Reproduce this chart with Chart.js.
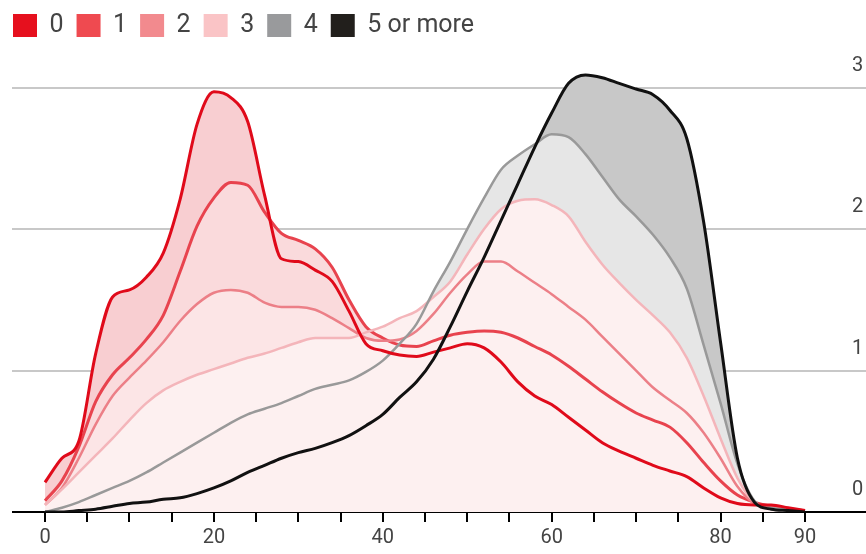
<!DOCTYPE html>
<html>
<head>
<meta charset="utf-8">
<script src="https://cdn.jsdelivr.net/npm/chart.js@4/dist/chart.umd.min.js"></script>
<style>
  html, body { margin: 0; padding: 0; background: #fff; }
</style>
</head>
<body>
<canvas id="myChart" width="866" height="554"></canvas>
<script>
// ages (x) shared by every series
const ages = [0, 2, 4, 6, 8, 10, 12, 14, 16, 18, 20, 22, 24, 26, 28, 30, 32, 34, 36, 38, 40, 42, 44,
  46, 48, 50, 52, 54, 56, 58, 60, 62, 64, 66, 68, 70, 72, 74, 76, 78, 80, 82, 84, 86, 88, 90];

const seriesNames = ["0", "1", "2", "3", "4", "5 or more"];

const s0 = [0.21, 0.38, 0.50, 1.12, 1.52, 1.57, 1.66, 1.83, 2.21, 2.74, 2.97, 2.93, 2.76, 2.24, 1.79, 1.77,
  1.71, 1.63, 1.42, 1.19, 1.14, 1.11, 1.10, 1.13, 1.16, 1.19, 1.16, 1.06, 0.92, 0.82, 0.76, 0.67, 0.58,
  0.49, 0.43, 0.38, 0.33, 0.29, 0.25, 0.17, 0.10, 0.06, 0.05, 0.05, 0.03, 0.01];
const s1 = [0.08, 0.22, 0.46, 0.78, 0.97, 1.09, 1.22, 1.39, 1.70, 2.02, 2.22, 2.33, 2.31, 2.12, 1.97, 1.92,
  1.86, 1.73, 1.50, 1.31, 1.23, 1.18, 1.17, 1.21, 1.25, 1.27, 1.28, 1.27, 1.23, 1.17, 1.11, 1.03, 0.94,
  0.85, 0.77, 0.70, 0.65, 0.60, 0.49, 0.35, 0.22, 0.12, 0.07, 0.04, 0.02, 0.01];
const s2 = [0.05, 0.17, 0.38, 0.62, 0.82, 0.95, 1.07, 1.20, 1.35, 1.47, 1.55, 1.57, 1.55, 1.48, 1.45, 1.45,
  1.43, 1.37, 1.30, 1.23, 1.21, 1.22, 1.28, 1.40, 1.55, 1.68, 1.77, 1.77, 1.70, 1.62, 1.54, 1.45, 1.36,
  1.24, 1.12, 1.00, 0.88, 0.79, 0.70, 0.56, 0.38, 0.18, 0.06, 0.03, 0.02, 0.01];
const s3 = [0.05, 0.16, 0.28, 0.40, 0.52, 0.65, 0.77, 0.86, 0.92, 0.97, 1.01, 1.05, 1.09, 1.12, 1.16, 1.20,
  1.23, 1.23, 1.23, 1.27, 1.31, 1.37, 1.42, 1.52, 1.63, 1.82, 2.00, 2.14, 2.20, 2.21, 2.17, 2.09, 1.91,
  1.75, 1.62, 1.50, 1.39, 1.27, 1.09, 0.82, 0.52, 0.24, 0.07, 0.03, 0.02, 0.01];
const s4 = [0.00, 0.03, 0.07, 0.12, 0.17, 0.22, 0.28, 0.35, 0.42, 0.49, 0.56, 0.63, 0.69, 0.73, 0.77, 0.82,
  0.87, 0.90, 0.93, 0.99, 1.07, 1.19, 1.33, 1.56, 1.77, 2.00, 2.22, 2.42, 2.52, 2.60, 2.67, 2.65, 2.53,
  2.37, 2.21, 2.09, 1.96, 1.80, 1.58, 1.18, 0.77, 0.34, 0.08, 0.03, 0.02, 0.01];
const s5 = [0.00, 0.00, 0.01, 0.02, 0.04, 0.06, 0.07, 0.09, 0.10, 0.13, 0.17, 0.22, 0.28, 0.33, 0.38, 0.42,
  0.45, 0.49, 0.54, 0.61, 0.69, 0.81, 0.92, 1.08, 1.31, 1.56, 1.80, 2.06, 2.32, 2.58, 2.82, 3.03, 3.09,
  3.07, 3.03, 2.99, 2.95, 2.84, 2.64, 2.05, 1.20, 0.38, 0.07, 0.02, 0.01, 0.00];

const xTickValues = [0, 5, 10, 15, 20, 25, 30, 35, 40, 45, 50, 55, 60, 65, 70, 75, 80, 85, 90];
const xLabelled = [0, 20, 40, 60, 80, 90];
const yTickValues = [0, 1, 2, 3];

const allSeries = [s0, s1, s2, s3, s4, s5];
const lineColors = ["#e00a1a", "#e8434e", "#ec7f87", "#f4b5ba", "#999999", "#111111"];
const legendColors = ["#e6101e", "#ef4a50", "#f28a8e", "#fac4c6", "#999a9c", "#221f1c"];
const lineWidths = [3, 3, 2.5, 2.5, 2.5, 3];
const none = "rgba(0,0,0,0)";
// colour of the band between a series and the next one, when it is above / below it
const bandAbove = ["#f8ced1", "#fadadc", "#fce5e6", none, none];
const bandBelow = [none, none, none, "#e6e6e6", "#c8c8c8"];
const baseFill = "#fdf0f0";
const lineOrder = [1, 5, 4, 3, 2, 0];

const toPoints = (arr) => arr.map((v, i) => ({ x: ages[i], y: v }));

const datasets = allSeries.map((arr, i) => ({
  label: seriesNames[i],
  data: toPoints(arr),
  yAxisID: "y",
  borderColor: lineColors[i],
  backgroundColor: legendColors[i],
  borderWidth: lineWidths[i],
  pointRadius: 0,
  cubicInterpolationMode: "monotone",
  order: lineOrder[i],
  fill: i < 5 ? { target: i + 1, above: bandAbove[i], below: bandBelow[i] } : false,
}));

// light pink under the whole envelope
allSeries.forEach((arr) => {
  datasets.push({
    label: "",
    data: toPoints(arr),
    yAxisID: "y",
    borderWidth: 0,
    borderColor: none,
    backgroundColor: baseFill,
    pointRadius: 0,
    cubicInterpolationMode: "monotone",
    order: 10,
    fill: "origin",
  });
});

const fontFamily = "Roboto, 'Noto Sans', sans-serif";

new Chart(document.getElementById("myChart"), {
  type: "line",
  data: { datasets },
  options: {
    responsive: false,
    devicePixelRatio: 1,
    animation: false,
    events: [],
    layout: { padding: { left: 0, right: 0, top: 0, bottom: 0 } },
    plugins: {
      filler: { drawTime: "beforeDatasetsDraw" },
      tooltip: { enabled: false },
      legend: {
        position: "top",
        align: "start",
        labels: {
          boxWidth: 24,
          boxHeight: 23,
          padding: 13,
          color: "#444",
          font: { family: fontFamily, size: 25 },
          generateLabels: () =>
            seriesNames.map((name, i) => ({
              text: name,
              fillStyle: legendColors[i],
              strokeStyle: legendColors[i],
              lineWidth: 0,
              hidden: false,
              datasetIndex: i,
              fontColor: "#444",
            })),
        },
      },
    },
    scales: {
      x: {
        type: "linear",
        min: -3.91,
        max: 95.33,
        afterBuildTicks: (axis) => {
          axis.ticks = xTickValues.map((v) => ({ value: v }));
        },
        grid: {
          drawOnChartArea: false,
          drawTicks: true,
          tickLength: 10,
          color: "#000",
          lineWidth: 2,
        },
        border: { display: false },
        ticks: {
          autoSkip: false,
          maxRotation: 0,
          padding: 4,
          color: "#444",
          font: { family: fontFamily, size: 20 },
          callback: (v) => (xLabelled.includes(v) ? String(v) : ""),
        },
      },
      pad: {
        position: "left",
        grid: { display: false },
        border: { display: false },
        ticks: { display: false },
        afterFit: (axis) => { axis.width = 12; },
      },
      y: {
        position: "right",
        min: 0,
        max: 3.28,
        afterBuildTicks: (axis) => {
          axis.ticks = yTickValues.map((v) => ({ value: v }));
        },
        afterFit: (axis) => { axis.width = 16; },
        grid: {
          color: (c) => (c.tick && c.tick.value === 0 ? "#000" : "#c8c8c8"),
          lineWidth: 2,
          drawTicks: true,
          tickLength: 16,
        },
        border: { display: false },
        ticks: {
          padding: -14,
          labelOffset: -22,
          color: "#444",
          font: { family: fontFamily, size: 20 },
          callback: (v) => String(v),
        },
      },
    },
  },
});
</script>
</body>
</html>
